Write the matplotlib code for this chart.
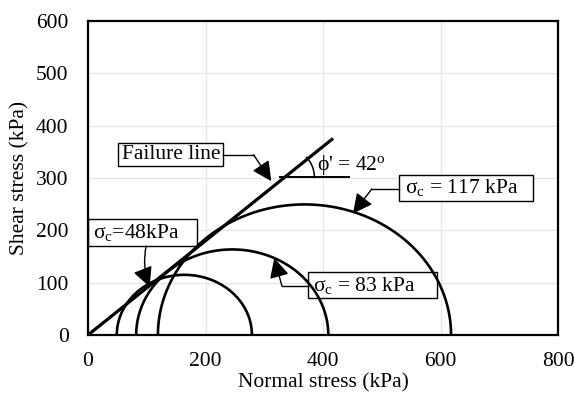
import numpy as np
import matplotlib
matplotlib.use("Agg")
import matplotlib.pyplot as plt
from matplotlib.patches import Rectangle

plt.rcParams['font.family'] = ['Liberation Serif', 'DejaVu Serif']
plt.rcParams['mathtext.fontset'] = 'custom'
plt.rcParams['mathtext.rm'] = 'Liberation Serif'
plt.rcParams['mathtext.it'] = 'Liberation Serif:italic'

# Mohr circles (minor / major principal stress, kPa)
sigma3 = [49, 82, 119]
sigma1 = [279, 409, 618]

# Failure envelope
phi_deg = 42
fail_x_end = 415

x_ticks = [0, 200, 400, 600, 800]
y_ticks = [0, 100, 200, 300, 400, 500, 600]

FS = 15.5

fig = plt.figure(figsize=(5.75, 3.99), dpi=100)
ax = fig.add_axes([88/575, 1-335/399, (558-88)/575, (335-21)/399])
ax.set_xlim(0, 800)
ax.set_ylim(0, 600)
ax.set_xticks(x_ticks)
ax.set_yticks(y_ticks)
ax.grid(True, color='#e6e6e6', linewidth=0.9)
ax.set_axisbelow(True)
ax.tick_params(length=0, labelsize=FS)
ax.tick_params(axis='x', pad=12)
ax.tick_params(axis='y', pad=14)
for s in ax.spines.values():
    s.set_linewidth(1.6)
    s.set_zorder(10)
ax.set_xlabel('Normal stress (kPa)', fontsize=FS, labelpad=2)
ax.set_ylabel('Shear stress (kPa)', fontsize=FS, labelpad=5)

th = np.linspace(0, np.pi, 400)
for s3, s1 in zip(sigma3, sigma1):
    c = (s1 + s3) / 2
    r = (s1 - s3) / 2
    ax.plot(c + r*np.cos(th), r*np.sin(th), color='black', lw=1.9, solid_capstyle='butt', zorder=3)

slope = np.tan(np.radians(phi_deg))
ax.plot([0, fail_x_end], [0, fail_x_end*slope], color='black', lw=2.3, zorder=4)

# angle indicator
y_h = 301
x_v = y_h / slope
ax.plot([327, 444], [y_h, y_h], color='black', lw=1.4, zorder=4)
x_px_per = 470/800
y_px_per = 314/600
rpx = 30
ang = np.linspace(0, np.radians(phi_deg), 50)
ax.plot(x_v + rpx*np.cos(ang)/x_px_per, y_h + rpx*np.sin(ang)/y_px_per, color='black', lw=1.1, zorder=4)
ax.text(389, 324, "ϕ' = 42$^{\\mathrm{o}}$", fontsize=FS, va='center', ha='left')

arrow_kw = dict(arrowstyle='-|>,head_length=0.6,head_width=0.3', color='black', lw=1.0,
                mutation_scale=20, shrinkA=0, shrinkB=0)


def label_box(x0, x1, y0, y1, tx, ty, s):
    ax.add_patch(Rectangle((x0, y0), x1 - x0, y1 - y0, fc='white', ec='black', lw=1.0, zorder=2))
    ax.text(tx, ty, s, fontsize=FS, ha='center', va='center', zorder=2.5)


# Failure line label
label_box(51, 230, 323, 366, 142, 344, 'Failure line')
ax.plot([230, 282], [344, 344], color='black', lw=1.0, zorder=5)
ax.annotate('', xy=(312, 294), xytext=(282, 344), arrowprops=arrow_kw, zorder=5)

# sigma_c = 117 kPa
label_box(529, 757, 256, 306, 636, 281, 'σ$_{\\mathrm{c}}$ = 117 kPa')
ax.plot([529, 483], [279, 279], color='black', lw=1.0, zorder=5)
ax.annotate('', xy=(451, 232), xytext=(483, 279), arrowprops=arrow_kw, zorder=5)

# sigma_c = 83 kPa
label_box(375, 594, 70, 121, 471, 95, 'σ$_{\\mathrm{c}}$ = 83 kPa')
ax.plot([375, 330], [94, 94], color='black', lw=1.0, zorder=5)
ax.annotate('', xy=(317, 147), xytext=(330, 94), arrowprops=arrow_kw, zorder=5)

# sigma_c = 48 kPa
label_box(0, 186, 170, 221, 82, 195, 'σ$_{\\mathrm{c}}$=48kPa')
ax.annotate('', xy=(105, 92), xytext=(99, 170),
            arrowprops=dict(arrow_kw, connectionstyle='arc3,rad=0.15'), zorder=5)

fig.savefig('out.png', dpi=100)
